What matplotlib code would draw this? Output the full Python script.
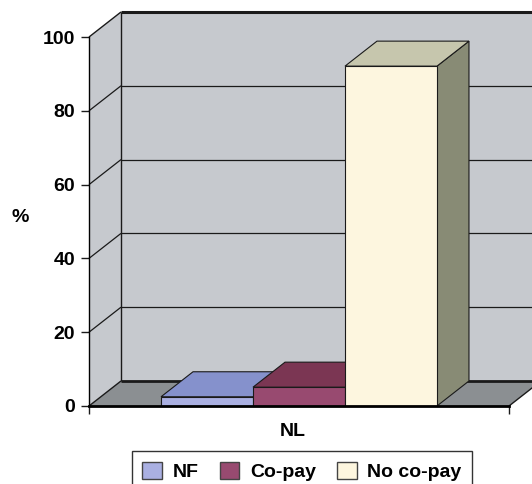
import matplotlib
matplotlib.use('Agg')
import matplotlib.pyplot as plt
from matplotlib.patches import Polygon, Patch

plt.rcParams['font.family'] = ['Liberation Sans', 'DejaVu Sans']

# data
category = 'NL'
series = ['NF', 'Co-pay', 'No co-pay']
values = [2.5, 5.1, 92.1]
yticks = [0, 20, 40, 60, 80, 100]

front_colors = ['#aab0e2', '#984a70', '#fdf6df']
top_colors = ['#8591cc', '#7b3653', '#c6c6ad']
side_colors = ['#6c77b0', '#5e2840', '#888b75']

wall = '#c6c9ce'
floor = '#8b8f92'
edge = '#1a1a1a'

# depth offset of the fake 3D box (data units)
DX, DY = 0.0762, 6.78
W = 0.219

fig = plt.figure(figsize=(5.32, 4.84), dpi=100)
ax = fig.add_axes([89/532, 78/484, 420/532, 369/484])
ax.set_xlim(0, 1)
ax.set_ylim(0, 100)

# walls and floor
ax.add_patch(Polygon([(DX, DY), (1.3, DY), (1.3, 100 + DY), (DX, 100 + DY)],
                     closed=True, fc=wall, ec='none', clip_on=False, zorder=0))
ax.add_patch(Polygon([(0, 0), (DX, DY), (DX, 100 + DY), (0, 100)],
                     closed=True, fc=wall, ec='none', clip_on=False, zorder=0))
ax.add_patch(Polygon([(0, 0), (1, 0), (1 + DX, DY), (DX, DY)],
                     closed=True, fc=floor, ec='none', clip_on=False, zorder=0.5))

def line(xs, ys, lw=1.0, z=1):
    ax.plot(xs, ys, color=edge, lw=lw, clip_on=False, zorder=z,
            solid_capstyle='butt')

# gridlines on back wall and left wall
for t in yticks[1:-1]:
    line([DX, 1.3], [t + DY, t + DY], lw=0.9)
    line([0, DX], [t, t + DY], lw=0.9)
line([DX, 1.3], [100 + DY, 100 + DY], lw=2.2)
line([0, DX], [100, 100 + DY], lw=1.0)
line([DX, DX], [DY, 100 + DY], lw=1.0)
line([DX, 1.3], [DY, DY], lw=2.0)
line([0, DX], [0, DY], lw=1.0)
line([1, 1 + DX], [0, DY], lw=1.0)

# bars: front faces via ax.bar, top/side faces from the same values
xs = [0.5 + (i - 1) * W for i in range(len(values))]
bars = ax.bar(xs, values, width=W, color=front_colors, edgecolor=edge,
              linewidth=0.8, clip_on=False)
for i, (b, x, v) in enumerate(zip(bars, xs, values)):
    z = 3 + i
    b.set_zorder(z + 0.2)
    x0, x1 = x - W / 2, x + W / 2
    ax.add_patch(Polygon([(x1, 0), (x1 + DX, DY), (x1 + DX, v + DY), (x1, v)],
                         closed=True, fc=side_colors[i], ec=edge, lw=0.8,
                         clip_on=False, zorder=z))
    ax.add_patch(Polygon([(x0, v), (x1, v), (x1 + DX, v + DY), (x0 + DX, v + DY)],
                         closed=True, fc=top_colors[i], ec=edge, lw=0.8,
                         clip_on=False, zorder=z + 0.1))

for s in ['top', 'right']:
    ax.spines[s].set_visible(False)
ax.spines['left'].set_linewidth(1.0)
ax.spines['bottom'].set_linewidth(2.0)
ax.spines['left'].set_zorder(2)
ax.spines['bottom'].set_zorder(10)

ax.set_yticks(yticks)
ax.set_yticklabels([str(t) for t in yticks], fontsize=14, fontweight='bold')
ax.set_xticks([0, 1])
ax.set_xticklabels(['', ''])
ax.tick_params(axis='both', length=6, width=1, color=edge)
ax.tick_params(axis='y', pad=4)

fig.text(293/532, 1 - 432/484, category, ha='center', va='center',
         fontsize=14, fontweight='bold')
fig.text(20/532, 1 - 217/484, '%', ha='center', va='center',
         fontsize=14, fontweight='bold')

handles = [Patch(fc=c, ec='#444444', lw=1, label=s)
           for c, s in zip(front_colors, series)]
leg = fig.legend(handles=handles, loc='upper center',
                 bbox_to_anchor=(302/532, 1 - 451/484), ncol=3,
                 fancybox=False, edgecolor='#333333', framealpha=1,
                 prop={'size': 14, 'weight': 'bold'},
                 handlelength=1.0, handleheight=1.0, handletextpad=0.55,
                 columnspacing=1.1, borderaxespad=0, borderpad=0.55)
leg.get_frame().set_linewidth(1.0)

fig.savefig('out.png', dpi=100)
